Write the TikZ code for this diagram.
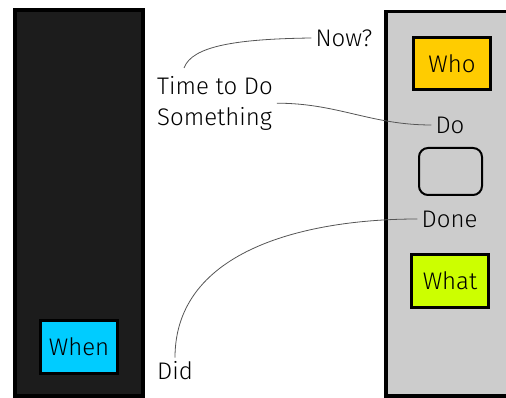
\documentclass[tikz,border=0pt]{standalone}
\usepackage{fontspec}
\setmainfont{Fira Sans}[UprightFont=* Light]
\usetikzlibrary{positioning}

\definecolor{paneldark}{HTML}{1C1C1C}
\definecolor{panelgrey}{HTML}{CCCCCC}
\definecolor{whoyellow}{HTML}{FFCC00}
\definecolor{whatgreen}{HTML}{CCFF00}
\definecolor{whencyan}{HTML}{00CCFF}
\definecolor{linkgrey}{HTML}{555555}

\begin{document}
\begin{tikzpicture}[x=1pt,y=1pt,
    panel/.style={draw=black, line width=4pt},
    tag/.style={draw=black, line width=3pt, minimum width=77pt, minimum height=52pt,
        inner sep=0pt, font=\fontsize{24}{28}\selectfont},
    lbl/.style={font=\fontsize{24}{31}\selectfont, inner sep=4pt},
    link/.style={draw=linkgrey, line width=0.8pt}]
    \useasboundingbox (0,0) rectangle (506,398);

    % Panels
    \draw[panel, fill=paneldark] (15,388) rectangle (143,2);
    \draw[panel, fill=panelgrey, line width=3.5pt] (386,386.5) rectangle (520,2);

    % Boxes on the panels
    \node[tag, fill=whoyellow] (who) at (452,334.5) {Who};
    \node[draw=black, line width=2pt, rounded corners=9pt, minimum width=63pt,
        minimum height=47pt] (slot) at (450.5,226.5) {};
    \node[tag, fill=whatgreen, minimum height=53pt] (what) at (450,117) {What};
    \node[tag, fill=whencyan, minimum height=53pt] (when) at (79,51) {When};

    % Labels
    \node[lbl] (do) at (450,273) {Do};
    \node[lbl] (done) at (449.5,179) {Done};
    \node[lbl] (now) at (344,360) {Now?};
    \node[lbl, align=left, anchor=north west] (time) at (153,326) {Time to Do\\Something};
    \node[lbl] (did) at (175,27) {Did};
    \coordinate (timetop) at (184,330);

    % Links
    \draw[link] (now.west) .. controls +(-75,-1) and +(8,22) .. (timetop);
    \draw[link] (time.east) to[out=0,in=180] (do.west);
    \draw[link] (done.west) to[out=180,in=90] (did.north);
\end{tikzpicture}
\end{document}
